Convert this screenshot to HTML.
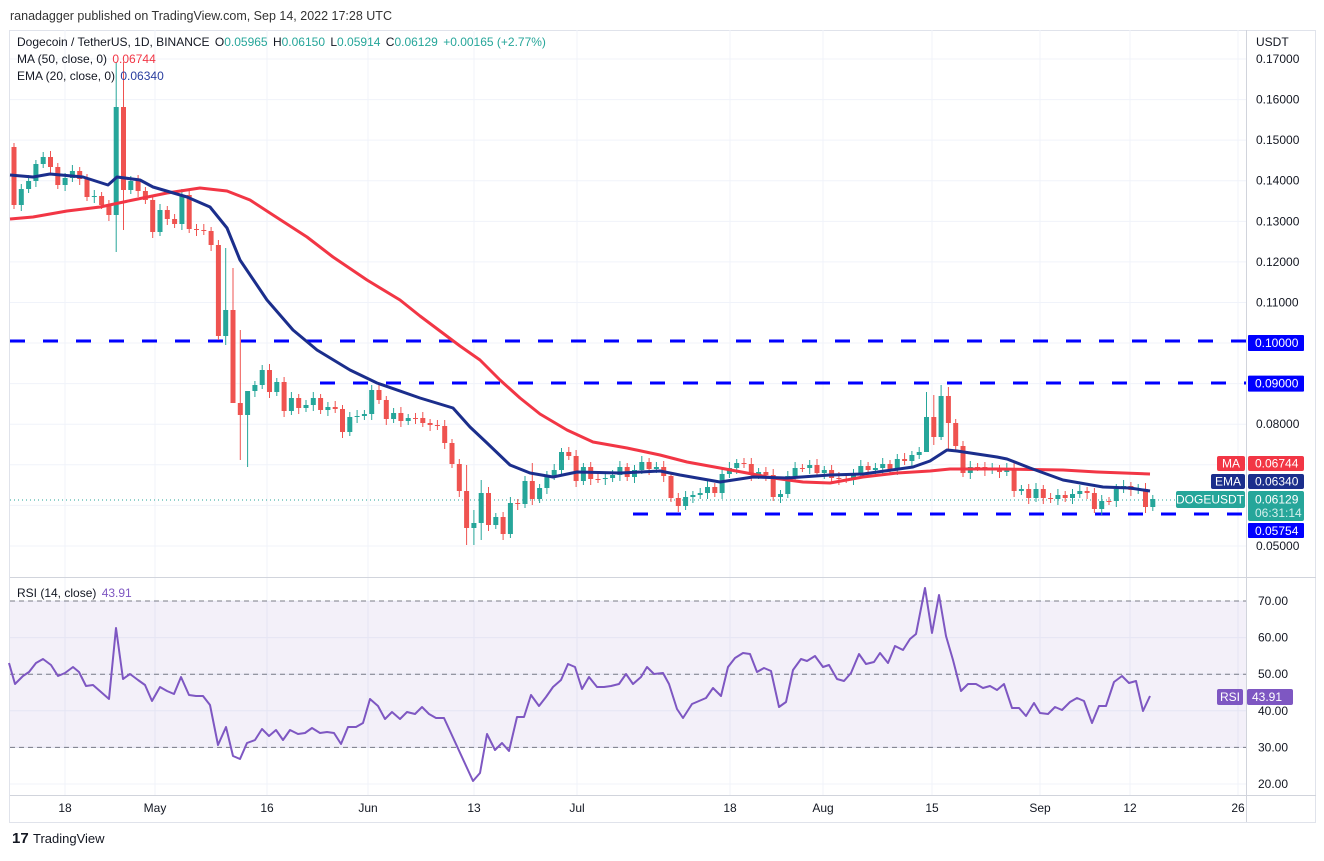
<!DOCTYPE html>
<html><head><meta charset="utf-8"><style>
html,body{margin:0;padding:0;background:#fff;}
body{width:1324px;height:856px;overflow:hidden;font-family:"Liberation Sans",sans-serif;}
svg text{font-family:"Liberation Sans",sans-serif;}
</style></head><body>
<svg id="s" width="1324" height="856" xmlns="http://www.w3.org/2000/svg">
<rect width="1324" height="856" fill="#fff"/>
<text x="10" y="20" font-size="12.5" fill="#333">ranadagger published on TradingView.com, Sep 14, 2022 17:28 UTC</text>
<rect x="9.5" y="30.5" width="1306" height="792" fill="none" stroke="#e0e3eb"/>
<g id="grid"></g>
<rect x="10" y="601" width="1236" height="147" fill="#7e57c2" fill-opacity="0.09"/>
<g id="main"></g>
<text x="17" y="46" font-size="12" fill="#131722">Dogecoin / TetherUS, 1D, BINANCE <tspan dx="2">O</tspan><tspan fill="#26a69a">0.05965</tspan> <tspan dx="2">H</tspan><tspan fill="#26a69a">0.06150</tspan> <tspan dx="2">L</tspan><tspan fill="#26a69a">0.05914</tspan> <tspan dx="2">C</tspan><tspan fill="#26a69a">0.06129</tspan> <tspan fill="#26a69a" dx="2">+0.00165 (+2.77%)</tspan></text>
<text x="17" y="63" font-size="12" fill="#131722">MA (50, close, 0) <tspan fill="#f23645" dx="2">0.06744</tspan></text>
<text x="17" y="80" font-size="12" fill="#131722">EMA (20, close, 0) <tspan fill="#2a3e9f" dx="2">0.06340</tspan></text>
<text x="17" y="597" font-size="12" fill="#131722">RSI (14, close) <tspan fill="#7e57c2" dx="2">43.91</tspan></text>
<line x1="1246.5" y1="30" x2="1246.5" y2="822" stroke="#d1d4dc"/>
<line x1="10" y1="577.5" x2="1316" y2="577.5" stroke="#d1d4dc"/>
<line x1="10" y1="795.5" x2="1316" y2="795.5" stroke="#d1d4dc"/>
<text x="1256" y="46" font-size="12" fill="#131722">USDT</text>
<g id="axis" font-size="12" fill="#131722"></g>
<rect x="1217" y="456" width="28" height="15" rx="2" fill="#f23645"/><text x="1231" y="467.5" font-size="12" fill="#fff" text-anchor="middle">MA</text>
<rect x="1248" y="456" width="56" height="15" rx="2" fill="#f23645"/><text x="1255" y="467.5" font-size="12" fill="#fff">0.06744</text>
<rect x="1211" y="474" width="34" height="15" rx="2" fill="#1b2e8c"/><text x="1228" y="485.5" font-size="12" fill="#fff" text-anchor="middle">EMA</text>
<rect x="1248" y="474" width="56" height="15" rx="2" fill="#1b2e8c"/><text x="1255" y="485.5" font-size="12" fill="#fff">0.06340</text>
<rect x="1176" y="491" width="69" height="17" rx="2" fill="#26a69a"/><text x="1210" y="503.5" font-size="12" fill="#fff" text-anchor="middle">DOGEUSDT</text>
<rect x="1248" y="491" width="56" height="30" rx="2" fill="#26a69a"/><text x="1255" y="503.5" font-size="12" fill="#fff">0.06129</text><text x="1255" y="517" font-size="12" fill="#d6f0ed">06:31:14</text>
<rect x="1248" y="523" width="56" height="15" rx="1" fill="#0000ff"/><text x="1255" y="535" font-size="12" fill="#fff">0.05754</text>
<rect x="1217" y="689" width="26" height="16" rx="2" fill="#7e57c2"/><text x="1230" y="701" font-size="12" fill="#fff" text-anchor="middle">RSI</text>
<rect x="1247" y="689" width="46" height="16" rx="2" fill="#7e57c2"/><text x="1252" y="701" font-size="12" fill="#fff">43.91</text>
<text x="12" y="843" font-size="15" font-weight="bold" fill="#131722">17</text>
<text x="33" y="843" font-size="13" fill="#131722">TradingView</text>
</svg>
<script>
(function(){
var NS="http://www.w3.org/2000/svg";
function el(p,t,a){var e=document.createElementNS(NS,t);for(var k in a)e.setAttribute(k,a[k]);p.appendChild(e);return e;}
var main=document.getElementById('main'),grid=document.getElementById('grid'),axis=document.getElementById('axis');
function py(p){return 59+(0.17-p)*4058;}
for(var i=0;i<=12;i++){var p=0.17-i*0.01,y=py(p);
 el(grid,'line',{x1:10,x2:1246,y1:y,y2:y,stroke:'#f0f3fa'});
 if(Math.abs(p-0.07)>0.001&&Math.abs(p-0.06)>0.001&&Math.abs(p-0.1)>0.001&&Math.abs(p-0.09)>0.001){var t=el(axis,'text',{x:1256,y:y+4});t.textContent=p.toFixed(5);}
}
[0.10,0.09].forEach(function(a){var y=py(a);el(main,'rect',{x:1248,y:y-8,width:56,height:16,rx:1,fill:'#0000ff'});var t=el(main,'text',{x:1255,y:y+4,'font-size':12,fill:'#fff'});t.textContent=a.toFixed(5);});
function ry(r){return 601+(70-r)*3.66;}
for(var r=20;r<=70;r+=10){var y=ry(r);el(grid,'line',{x1:10,x2:1246,y1:y,y2:y,stroke:'#f0f3fa'});var t=el(axis,'text',{x:1258,y:y+4});t.textContent=r.toFixed(2);}
[70,50,30].forEach(function(r){el(main,'line',{x1:10,x2:1246,y1:ry(r),y2:ry(r),stroke:'#787b86','stroke-dasharray':'5,4','stroke-width':1});});
var xl=[[65,'18'],[155,'May'],[267,'16'],[368,'Jun'],[474,'13'],[577,'Jul'],[730,'18'],[823,'Aug'],[932,'15'],[1040,'Sep'],[1130,'12'],[1238,'26']];
xl.forEach(function(a){el(grid,'line',{x1:a[0],x2:a[0],y1:30,y2:795,stroke:'#f0f3fa'});var t=el(axis,'text',{x:a[0],y:812,'text-anchor':'middle'});t.textContent=a[1];});
function dash(x1,y){el(main,'line',{x1:x1,x2:1246,y1:y,y2:y,stroke:'#0000ff','stroke-width':3,'stroke-dasharray':'15,18'});}
dash(10,341);dash(320,383);dash(633,514);
el(main,'line',{x1:10,x2:1246,y1:500,y2:500,stroke:'#26a69a','stroke-dasharray':'1,3'});
var C=[205,189,181,164,157,167,185,178,171,179,197,196,205,215,107,190,181,191,200,232,210,219,224,195,229,230,231,245,336,310,403,415,391,385,370,392,382,411,398,408,405,398,410,407,409,432,417,416,414,390,400,419,413,421,418,418,423,425,426,443,464,491,528,523,493,525,517,534,503,504,481,499,488,476,470,452,456,481,467,479,479,478,475,467,477,470,462,469,467,476,498,506,497,495,493,487,493,474,468,463,464,475,472,475,497,494,476,468,468,465,473,470,478,479,479,474,466,470,468,464,469,459,461,455,452,417,437,396,423,446,473,467,467,470,469,472,468,491,489,498,489,498,499,495,498,494,491,493,509,501,501,489,486,490,489,507,499];
var HX={14:[62,252],15:[62,230],29:[248,345],30:[268,345],31:[330,460],32:[395,467],62:[465,545],63:[510,545],125:[392,440],126:[395,445],127:[385,440],128:[387,450],64:[480,540],71:[463,505]};
var o=147;
for(var i=0;i<C.length;i++){var c=C[i],x=14+i*7.3,up=c<o,col=up?'#26a69a':'#ef5350';
 var tp=Math.min(o,c),bt=Math.max(o,c);var h=tp-4-(i%3),l=bt+4+(i%2)*2;
 if(HX[i]){h=HX[i][0];l=HX[i][1];}
 el(main,'line',{x1:x,x2:x,y1:h,y2:l,stroke:col,'stroke-width':1});
 el(main,'rect',{x:x-2.5,y:tp,width:5,height:Math.max(1,bt-tp),fill:col});
 o=c;}
function pl(pts,col,w){el(main,'polyline',{points:pts.map(function(p){return p.join(',')}).join(' '),fill:'none',stroke:col,'stroke-width':w,'stroke-linejoin':'round'});}
pl([[10,219],[33,217],[67,211],[100,207],[133,200],[167,193],[200,188],[227,191],[250,200],[273,215],[307,237],[333,257],[367,280],[400,300],[420,316],[440,331],[460,346],[480,360],[500,380],[520,398],[540,414],[567,430],[593,442],[627,448],[660,455],[687,462],[720,468],[747,473],[773,478],[803,482],[830,483],[863,477],[897,473],[930,471],[950,469],[997,469],[1063,470],[1097,472],[1150,474]],'#f23645',3);
pl([[10,175],[33,177],[50,174],[83,177],[108,185],[117,177],[140,180],[153,187],[187,197],[210,207],[227,228],[240,260],[267,300],[293,330],[317,350],[350,370],[377,383],[420,398],[453,408],[470,427],[487,443],[510,465],[530,473],[553,477],[577,472],[620,473],[660,471],[680,475],[720,482],[753,477],[787,478],[830,475],[863,474],[913,467],[930,461],[947,450],[957,451],[997,457],[1007,459],[1030,468],[1063,480],[1103,487],[1130,488],[1150,491]],'#1b2e8c',3);
pl([[9,663],[15,684],[23,676],[29,672],[36,663],[43,659],[51,665],[58,676],[65,673],[73,667],[79,672],[86,686],[93,685],[101,692],[109,699],[116,628],[123,679],[130,674],[138,680],[145,685],[152,701],[160,687],[167,691],[174,694],[181,677],[189,695],[196,696],[203,696],[210,705],[218,745],[226,727],[233,756],[240,759],[247,743],[255,740],[262,729],[269,736],[276,730],[283,740],[290,730],[298,734],[305,733],[312,728],[320,733],[327,732],[334,733],[341,744],[348,727],[356,727],[363,723],[370,699],[378,706],[385,719],[392,712],[400,719],[407,712],[415,714],[422,707],[429,714],[436,718],[444,718],[473,781],[480,773],[487,734],[495,750],[502,743],[509,751],[517,717],[524,717],[531,695],[539,706],[546,697],[553,687],[561,680],[568,664],[575,667],[582,689],[589,677],[597,687],[604,687],[611,686],[619,684],[626,674],[633,684],[641,677],[647,667],[654,674],[663,673],[669,684],[677,709],[683,718],[692,704],[699,701],[706,698],[713,688],[721,696],[728,667],[735,658],[743,653],[750,654],[757,672],[764,668],[771,671],[779,707],[786,702],[793,670],[801,659],[807,661],[815,656],[823,667],[829,665],[837,679],[844,681],[851,673],[859,654],[866,664],[874,662],[880,653],[888,663],[895,646],[903,650],[910,639],[916,634],[925,588],[932,633],[939,595],[946,636],[953,660],[961,691],[968,684],[976,684],[983,688],[990,686],[997,690],[1004,684],[1012,708],[1019,708],[1026,716],[1034,703],[1040,713],[1048,714],[1055,707],[1062,710],[1070,702],[1077,698],[1084,701],[1092,723],[1099,706],[1106,706],[1114,682],[1122,676],[1129,683],[1136,681],[1143,711],[1150,696]],'#7e57c2',2);
})();
</script>
</body></html>
